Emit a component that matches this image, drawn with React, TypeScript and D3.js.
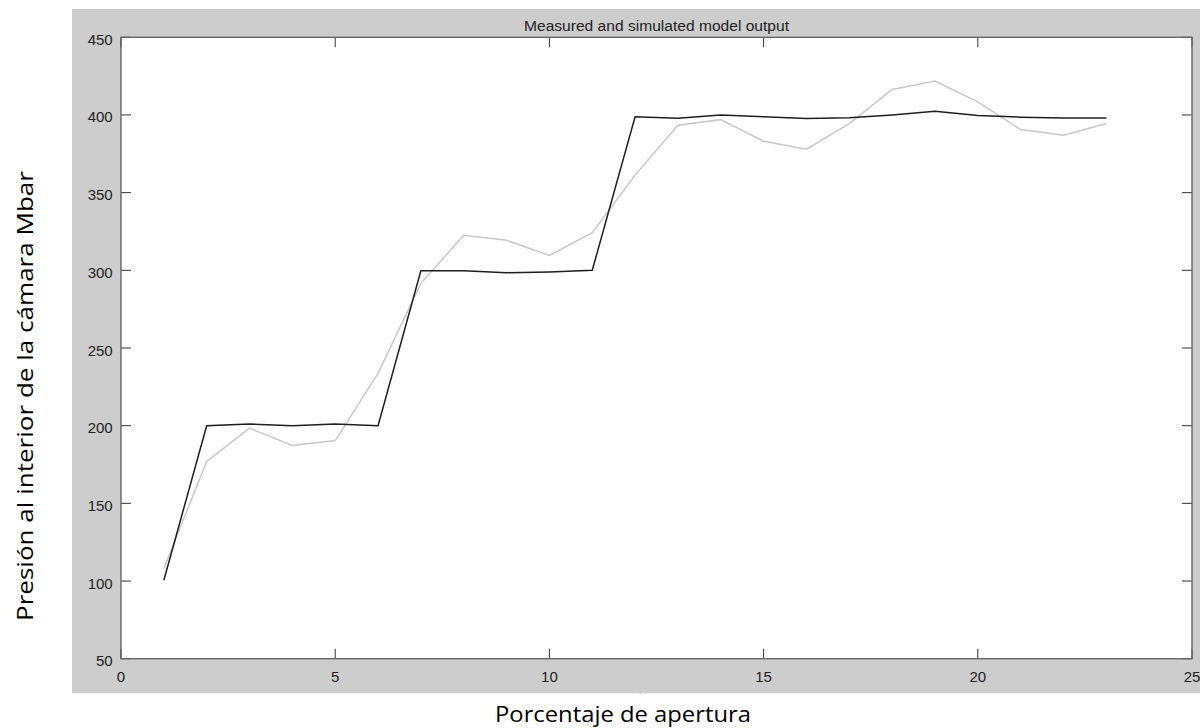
import React from "react";
import * as d3 from "d3";

const xValues = [1, 2, 3, 4, 5, 6, 7, 8, 9, 10, 11, 12, 13, 14, 15, 16, 17, 18, 19, 20, 21, 22, 23];
const simulated = [100.5, 200, 201, 200, 201, 200, 299.7, 299.8, 298.5, 299, 300, 398.8, 397.9, 400, 398.8, 397.8, 398.2, 400, 402.4, 399.7, 398.6, 398, 398];
const measured = [108, 177, 198.4, 187.2, 190.4, 233.7, 291.6, 322.5, 319.3, 309.6, 324.2, 361.3, 393.4, 397, 383.1, 378, 394.5, 416.4, 421.9, 408.4, 390.6, 387, 394.5];
const xTicks = [0, 5, 10, 15, 20, 25];
const yTicks = [50, 100, 150, 200, 250, 300, 350, 400, 450];
const title = "Measured and simulated model output";
const xLabel = "Porcentaje de apertura";
const yLabel = "Presión al interior de la cámara Mbar";

export default function App() {
  const W = 1200, H = 728;
  const left = 121, right = 1192, top = 37.3, bottom = 658.7;
  const x = d3.scaleLinear().domain([0, 25]).range([left, right]);
  const y = d3.scaleLinear().domain([50, 450]).range([bottom, top]);
  const line = d3.line<number>().x((_, i) => x(xValues[i])).y((d) => y(d));
  const tickLen = 10;
  const axisColor = "#676767";
  const tickColor = "#333";
  const font = "'Liberation Sans', Arial, sans-serif";
  return (
    <svg width={W} height={H} style={{ position: "absolute", left: 0, top: 0 }}>
      <defs>
        <clipPath id="panelClip">
          <rect x={72} y={9} width={1128} height={684.3} />
        </clipPath>
      </defs>
      <rect x={0} y={0} width={W} height={H} fill="#fff" />
      <rect x={72} y={9} width={1128} height={684.3} fill="#cdcdcd" />
      <rect x={left} y={top} width={right - left} height={bottom - top} fill="#fff" />
      {xTicks.map((t) => (
        <g key={"xt" + t}>
          <line x1={x(t)} x2={x(t)} y1={bottom} y2={bottom - tickLen} stroke={tickColor} strokeWidth={1} />
          <line x1={x(t)} x2={x(t)} y1={top} y2={top + tickLen} stroke={tickColor} strokeWidth={1} />
          <text x={x(t)} y={682} textAnchor="middle" fontFamily={font} fontSize={15} fill="#222">{t}</text>
        </g>
      ))}
      {yTicks.map((t) => (
        <g key={"yt" + t}>
          <line x1={left} x2={left + tickLen} y1={y(t)} y2={y(t)} stroke={tickColor} strokeWidth={1} />
          <line x1={right} x2={right - tickLen} y1={y(t)} y2={y(t)} stroke={tickColor} strokeWidth={1} />
          <text x={112.7} y={y(t) + 7.5} textAnchor="end" fontFamily={font} fontSize={15} fill="#222">{t}</text>
        </g>
      ))}
      <rect x={left} y={top} width={right - left} height={bottom - top} fill="none" stroke={axisColor} strokeWidth={1.4} />
      <path d={line(measured) || ""} fill="none" stroke="#c8c8c8" strokeWidth={1.5} />
      <path d={line(simulated) || ""} fill="none" stroke="#1e1e1e" strokeWidth={1.5} />
      <text x={656.5} y={30.5} textAnchor="middle" fontFamily={font} fontSize={14} fill="#222" textLength={265} lengthAdjust="spacingAndGlyphs">{title}</text>
      <text x={646} y={704} textAnchor="middle" fontFamily={font} fontSize={14} fill="#333" clipPath="url(#panelClip)">Time</text>
      <text x={623} y={722} textAnchor="middle" fontFamily="'Open Sans', 'Noto Sans', sans-serif" fontSize={21} fill="#000" textLength={256} lengthAdjust="spacingAndGlyphs">{xLabel}</text>
      <text transform={`translate(33, 396) rotate(-90)`} textAnchor="middle" fontFamily="'Open Sans', 'Noto Sans', sans-serif" fontSize={21} fill="#000" textLength={450} lengthAdjust="spacingAndGlyphs">{yLabel}</text>
    </svg>
  );
}
